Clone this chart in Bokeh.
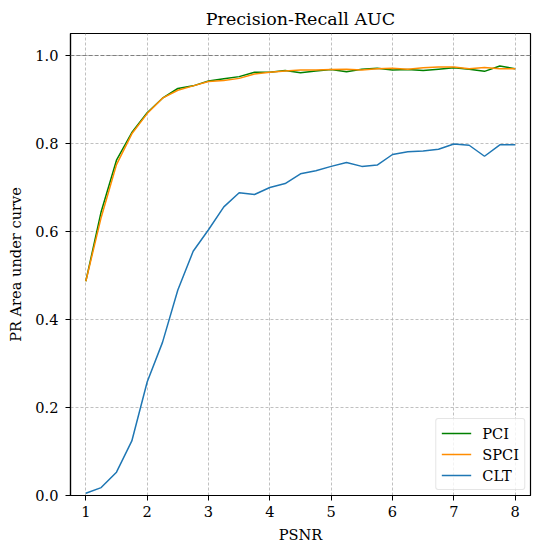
from bokeh.plotting import figure
from bokeh.models import (Range1d, FixedTicker, PrintfTickFormatter, Span, Legend,
                          LegendItem, ColumnDataSource)
from bokeh.embed import file_html
from bokeh.resources import INLINE

psnr = [1.0, 1.25, 1.5, 1.75, 2.0, 2.25, 2.5, 2.75, 3.0, 3.25, 3.5, 3.75, 4.0, 4.25,
        4.5, 4.75, 5.0, 5.25, 5.5, 5.75, 6.0, 6.25, 6.5, 6.75, 7.0, 7.25, 7.5, 7.75, 8.0]
pci = [0.487, 0.645, 0.762, 0.825, 0.870, 0.903, 0.925, 0.931, 0.942, 0.947, 0.952,
       0.962, 0.962, 0.966, 0.961, 0.965, 0.968, 0.963, 0.969, 0.971, 0.967, 0.968,
       0.966, 0.969, 0.972, 0.969, 0.964, 0.976, 0.970]
spci = [0.487, 0.632, 0.752, 0.822, 0.868, 0.903, 0.921, 0.931, 0.941, 0.943, 0.948,
        0.958, 0.962, 0.965, 0.967, 0.967, 0.968, 0.969, 0.967, 0.970, 0.971, 0.969,
        0.972, 0.974, 0.974, 0.970, 0.973, 0.970, 0.970]
clt = [0.005, 0.018, 0.053, 0.124, 0.258, 0.348, 0.467, 0.555, 0.604, 0.656, 0.688,
       0.684, 0.700, 0.709, 0.731, 0.738, 0.748, 0.757, 0.748, 0.751, 0.775, 0.781,
       0.783, 0.787, 0.799, 0.796, 0.771, 0.797, 0.797]
x_ticks = [1, 2, 3, 4, 5, 6, 7, 8]
y_ticks = [0.0, 0.2, 0.4, 0.6, 0.8, 1.0]

FONT = "DejaVu Serif"

p = figure(width=533, height=550, output_backend="svg", toolbar_location=None,
           x_range=Range1d(0.75, 8.25), y_range=Range1d(0, 1.05),
           min_border_left=70, min_border_right=3, min_border_top=33, min_border_bottom=55,
           title="Precision-Recall AUC")
p.title.text_font = FONT
p.title.text_font_size = "17.5px"
p.title.text_font_style = "normal"
p.title.align = "center"
p.title.text_color = "black"

p.outline_line_color = "black"
p.outline_line_width = 1.2
p.background_fill_color = "white"
p.border_fill_color = "white"

for ax in (p.xaxis[0], p.yaxis[0]):
    ax.major_label_text_font = FONT
    ax.major_label_text_font_size = "14.6px"
    ax.major_label_text_color = "black"
    ax.axis_label_text_font = FONT
    ax.axis_label_text_font_size = "14.6px"
    ax.axis_label_text_font_style = "normal"
    ax.axis_label_text_color = "black"
    ax.major_tick_out = 5
    ax.major_tick_in = 0
    ax.minor_tick_out = 0
    ax.minor_tick_in = 0
    ax.axis_line_color = "black"
    ax.axis_line_width = 1.2
    ax.major_tick_line_color = "black"
    ax.major_tick_line_width = 1.0

p.xaxis.ticker = FixedTicker(ticks=x_ticks)
p.yaxis.ticker = FixedTicker(ticks=y_ticks)
p.yaxis.formatter = PrintfTickFormatter(format="%.1f")
p.xaxis.axis_label = "PSNR"
p.yaxis.axis_label = "PR Area under curve"
p.xaxis.major_label_standoff = 5
p.xaxis.axis_label_standoff = 6
p.yaxis.major_label_standoff = 7
p.yaxis.axis_label_standoff = 8

p.grid.grid_line_color = "#b0b0b0"
p.grid.grid_line_dash = "3 2"
p.grid.grid_line_width = 0.8

p.add_layout(Span(location=1.0, dimension="width", line_color="gray",
                  line_dash="4 2", line_width=1.0))

src = ColumnDataSource(dict(x=psnr, pci=pci, spci=spci, clt=clt))
r1 = p.line("x", "pci", source=src, line_color="green", line_width=1.5)
r2 = p.line("x", "spci", source=src, line_color="darkorange", line_width=1.5)
r3 = p.line("x", "clt", source=src, line_color="#1f77b4", line_width=1.5)

legend = Legend(items=[LegendItem(label="PCI", renderers=[r1]),
                       LegendItem(label="SPCI", renderers=[r2]),
                       LegendItem(label="CLT", renderers=[r3])],
                location="bottom_right")
legend.label_text_font = FONT
legend.label_text_font_size = "14.6px"
legend.label_text_color = "black"
legend.glyph_width = 30
legend.glyph_height = 18
legend.label_height = 18
legend.label_standoff = 11
legend.spacing = 3
legend.padding = 5
legend.margin = 5
legend.border_line_color = "#cccccc"
legend.border_line_width = 1
legend.background_fill_alpha = 0.8
legend.border_radius = 3
p.add_layout(legend, "center")

open("out.html", "w").write(file_html(p, INLINE))
